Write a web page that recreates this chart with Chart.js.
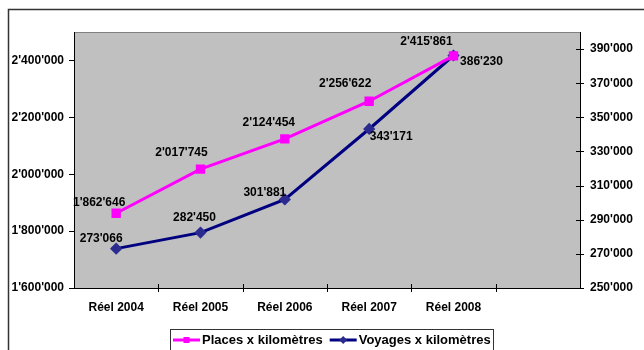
<!DOCTYPE html>
<html lang="fr">
<head>
<meta charset="UTF-8">
<title>Places et voyages x kilomètres</title>
<script src="https://cdn.jsdelivr.net/npm/chart.js"></script>
<style>
  html, body { margin: 0; padding: 0; background: #fff; }
  #zone { width: 644px; height: 350px; }
</style>
</head>
<body>
<div id="zone"><canvas id="id_grafico" width="644" height="350"></canvas></div>
<script>
// données
const annees = ['Réel 2004', 'Réel 2005', 'Réel 2006', 'Réel 2007', 'Réel 2008', ''];
const places = [1862646, 2017745, 2124454, 2256622, 2415861, null];
const voyages = [273066, 282450, 301881, 343171, 386230, null];
const ticksGauche = [1600000, 1800000, 2000000, 2200000, 2400000];
const ticksDroite = [250000, 270000, 290000, 310000, 330000, 350000, 370000, 390000];

// décalage des étiquettes par rapport aux points
const decPlaces = [[-17, -11], [-19, -16], [-16, -16], [-24, -18], [-27, -14]];
const decVoyages = [[-15, -10], [-6, -15], [-20, -7], [22, 8], [28, 6]];

const famille = '"Liberation Sans", Arial, sans-serif';
const police = 'bold 12px ' + famille;
const policeLegende = 'bold 13px ' + famille;

function fmt(v) {
  return String(Math.round(v)).replace(/\B(?=(\d{3})+(?!\d))/g, "'");
}

const cadre = {
  id: 'cadre',
  beforeDraw(chart) {
    const ctx = chart.ctx, a = chart.chartArea;
    ctx.save();
    ctx.fillStyle = '#fff';
    ctx.fillRect(0, 0, chart.width, chart.height);
    ctx.strokeStyle = '#333';
    ctx.lineWidth = 1.5;
    ctx.strokeRect(8.5, 9.5, 700, 400);
    ctx.fillStyle = '#c0c0c0';
    ctx.fillRect(a.left, a.top, a.right - a.left, a.bottom - a.top);
    ctx.strokeStyle = '#808080';
    ctx.lineWidth = 1;
    ctx.beginPath();
    ctx.moveTo(a.left, a.top + 0.5);
    ctx.lineTo(a.right, a.top + 0.5);
    ctx.stroke();
    ctx.restore();
  },
  afterDraw(chart) {
    const ctx = chart.ctx, a = chart.chartArea;
    const sx = chart.scales.x, sy = chart.scales.y, sy1 = chart.scales.y1;
    ctx.save();
    ctx.strokeStyle = '#000';
    ctx.lineWidth = 1;
    ctx.beginPath();
    sy.ticks.forEach(t => {
      const y = Math.round(sy.getPixelForValue(t.value)) + 0.5;
      ctx.moveTo(a.left - 5, y); ctx.lineTo(a.left, y);
    });
    sy1.ticks.forEach(t => {
      const y = Math.round(sy1.getPixelForValue(t.value)) + 0.5;
      ctx.moveTo(a.right - 4, y); ctx.lineTo(a.right + 4, y);
    });
    for (let i = 0; i < annees.length - 1; i++) {
      const x = Math.round((sx.getPixelForValue(i) + sx.getPixelForValue(i + 1)) / 2) + 0.5;
      ctx.moveTo(x, a.bottom - 4); ctx.lineTo(x, a.bottom + 4);
    }
    ctx.stroke();

    // étiquettes des valeurs
    ctx.font = police;
    ctx.fillStyle = '#000';
    ctx.textAlign = 'center';
    ctx.textBaseline = 'middle';
    [[0, decPlaces], [1, decVoyages]].forEach(([d, dec]) => {
      const meta = chart.getDatasetMeta(d);
      const vals = chart.data.datasets[d].data;
      meta.data.forEach((p, i) => {
        if (vals[i] == null) return;
        ctx.fillText(fmt(vals[i]), p.x + dec[i][0], p.y + dec[i][1]);
      });
    });

    // légende
    ctx.font = policeLegende;
    ctx.strokeStyle = '#333';
    ctx.lineWidth = 1;
    ctx.strokeRect(170.5, 329.5, 323, 30);
    ctx.textAlign = 'left';
    let x = 173;
    const yl = 340;
    chart.data.datasets.forEach(ds => {
      ctx.strokeStyle = ds.borderColor;
      ctx.lineWidth = 3;
      ctx.beginPath();
      ctx.moveTo(x, yl); ctx.lineTo(x + 27, yl);
      ctx.stroke();
      ctx.fillStyle = ds.pointBackgroundColor;
      ctx.beginPath();
      if (ds.pointStyle === 'rect') {
        ctx.rect(x + 10.5, yl - 3, 6, 6);
      } else {
        ctx.moveTo(x + 13.5, yl - 4); ctx.lineTo(x + 17.5, yl);
        ctx.lineTo(x + 13.5, yl + 4); ctx.lineTo(x + 9.5, yl);
      }
      ctx.fill();
      ctx.fillStyle = '#000';
      ctx.fillText(ds.label, x + 29, yl);
      x += 29 + ctx.measureText(ds.label).width + 7;
    });
    ctx.restore();
  }
};

const fontTicks = { family: famille, size: 12, weight: 'bold' };

const ctx = document.getElementById('id_grafico').getContext('2d');
const grafico = new Chart(ctx, {
  type: 'line',
  data: {
    labels: annees,
    datasets: [
      {
        label: 'Places x kilomètres',
        data: places,
        yAxisID: 'y',
        borderColor: '#ff00ff',
        backgroundColor: '#ff00ff',
        pointBackgroundColor: '#ff00ff',
        pointBorderColor: '#ff00ff',
        pointStyle: 'rect',
        pointRadius: 4.5,
        borderWidth: 3,
        tension: 0
      },
      {
        label: 'Voyages x kilomètres',
        data: voyages,
        yAxisID: 'y1',
        borderColor: '#000080',
        backgroundColor: '#000080',
        pointBackgroundColor: '#2b2b90',
        pointBorderColor: '#2b2b90',
        pointStyle: 'rectRot',
        pointRadius: 4,
        borderWidth: 3,
        tension: 0
      }
    ]
  },
  options: {
    responsive: false,
    animation: false,
    layout: { padding: { top: 32, left: 0, right: 0, bottom: 0 } },
    plugins: {
      legend: { display: false },
      tooltip: { enabled: false }
    },
    scales: {
      x: {
        offset: true,
        grid: { display: false, drawTicks: false, offset: true },
        border: { display: true, color: '#000', width: 1 },
        ticks: { autoSkip: false, maxRotation: 0, padding: 12, color: '#000', font: fontTicks },
        afterFit(s) { s.height = 62; }
      },
      y: {
        position: 'left',
        min: 1600000, max: 2500000,
        grid: { display: false, drawTicks: false },
        border: { display: true, color: '#000', width: 1 },
        ticks: { padding: 10, color: '#000', font: fontTicks, callback: v => fmt(v) },
        afterBuildTicks(s) { s.ticks = ticksGauche.map(v => ({ value: v })); },
        afterFit(s) { s.width = 74; }
      },
      y1: {
        position: 'right',
        min: 250000, max: 400000,
        grid: { display: false, drawTicks: false },
        border: { display: true, color: '#000', width: 1 },
        ticks: { padding: 10, color: '#000', font: fontTicks, callback: v => fmt(v) },
        afterBuildTicks(s) { s.ticks = ticksDroite.map(v => ({ value: v })); },
        afterFit(s) { s.width = 64; }
      }
    }
  },
  plugins: [cadre]
});
</script>
</body>
</html>
